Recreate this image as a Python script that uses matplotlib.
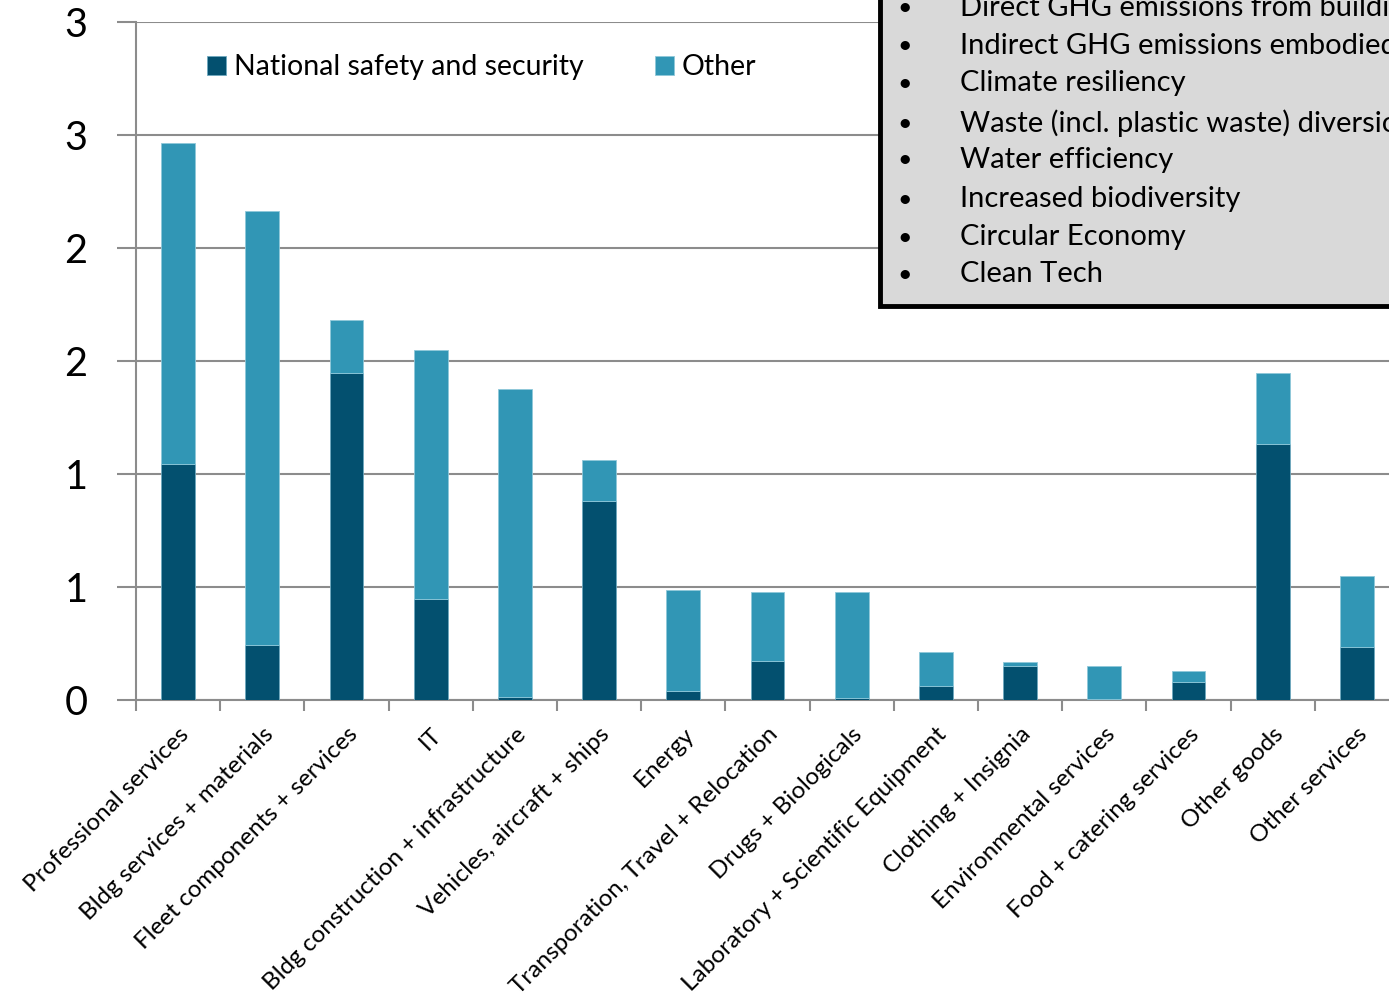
import matplotlib.pyplot as plt
from matplotlib.patches import Rectangle

# values
categories = ['Professional services', 'Bldg services + materials', 'Fleet components + services',
              'IT', 'Bldg construction + infrastructure', 'Vehicles, aircraft + ships', 'Energy',
              'Transporation, Travel + Relocation', 'Drugs + Biologicals',
              'Laboratory + Scientific Equipment', 'Clothing + Insignia', 'Environmental services',
              'Food + catering services', 'Other goods', 'Other services']
national = [1.044, 0.243, 1.447, 0.447, 0.013, 0.881, 0.040, 0.173, 0.009,
            0.062, 0.150, 0.005, 0.080, 1.133, 0.235]
total = [2.465, 2.164, 1.681, 1.549, 1.376, 1.062, 0.487, 0.478, 0.478,
         0.212, 0.168, 0.150, 0.128, 1.447, 0.549]
other = [t - n for t, n in zip(total, national)]

yticks = [0, 0.5, 1.0, 1.5, 2.0, 2.5, 3.0]
ytick_labels = ['0', '1', '1', '2', '2', '3', '3']

box_lines = ['Direct GHG emissions from buildings',
             'Indirect GHG emissions embodied in goods',
             'Climate resiliency',
             'Waste (incl. plastic waste) diversion',
             'Water efficiency',
             'Increased biodiversity',
             'Circular Economy',
             'Clean Tech']

plt.rcParams['font.family'] = ['Lato', 'DejaVu Sans']

dark = '#03506f'
light = '#3196b5'
grid_col = '#8c8c8c'

fig = plt.figure(figsize=(13.89, 10.01), dpi=100)
ax = fig.add_axes([136 / 1389, 301 / 1001, 1263 / 1389, 678 / 1001])

x = list(range(len(categories)))
ax.bar(x, national, width=0.4, color=dark, edgecolor='#6fa9bf', linewidth=0.6,
       label='National safety and security', zorder=3)
ax.bar(x, other, bottom=national, width=0.4, color=light, edgecolor='#8fc8da', linewidth=0.6,
       label='Other', zorder=3)

ax.set_xlim(-0.5, len(categories) - 0.5)
ax.set_ylim(0, 3)
ax.set_yticks(yticks)
ax.set_yticklabels(ytick_labels, fontsize=28.5)
ax.yaxis.grid(True, color=grid_col, linewidth=1.5, zorder=0)
ax.tick_params(axis='y', length=14, width=1.5, color=grid_col, pad=21)

# category boundary ticks (major) and labels at centres (minor)
ax.set_xticks([i + 0.5 for i in range(-1, len(categories))])
ax.set_xticklabels([])
ax.tick_params(axis='x', length=8, width=1.5, color=grid_col)
ax.set_xticks(x, minor=True)
ax.set_xticklabels(categories, minor=True, rotation=45, ha='right',
                   rotation_mode='anchor', fontsize=17.5)
ax.tick_params(axis='x', which='minor', length=0, pad=17)

for s in ['top', 'right']:
    ax.spines[s].set_visible(False)
for s in ['left', 'bottom']:
    ax.spines[s].set_color(grid_col)
    ax.spines[s].set_linewidth(1.5)

ax.legend(loc='upper left', bbox_to_anchor=(0.036, 0.99), ncol=2, frameon=False,
          fontsize=20.5, handlelength=0.65, handleheight=0.65, handletextpad=0.3,
          columnspacing=2.5)

# text box in top right
fig.patches.append(Rectangle((880 / 1389, 695 / 1001), 0.5, 0.4, transform=fig.transFigure,
                             facecolor='#d9d9d9', edgecolor='black', linewidth=3.5,
                             zorder=10))
line_y = [8, 46, 83, 123, 160, 199, 237, 274]
for yy, txt in zip(line_y, box_lines):
    fig.text(905 / 1389, 1 - yy / 1001, '\u2022', fontsize=18, ha='center', va='center',
             zorder=11)
    fig.text(960 / 1389, 1 - yy / 1001, txt, fontsize=21, ha='left', va='center', zorder=11)

fig.savefig('out.png', dpi=100)
